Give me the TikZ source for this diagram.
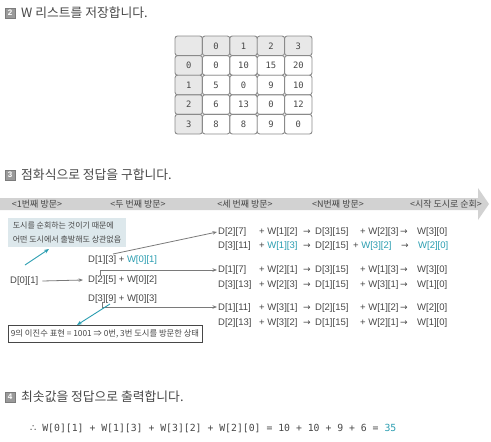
\documentclass[tikz,border=0pt]{standalone}
\usepackage{fontspec}
\setmainfont{Liberation Sans}
\newfontfamily\kr{Noto Sans CJK KR}
\newfontfamily\dv{DejaVu Sans}
\newfontfamily\mono{DejaVu Sans Mono}
\usetikzlibrary{arrows.meta}
\definecolor{tealc}{HTML}{2A9DB0}
\definecolor{txtc}{HTML}{474747}
\definecolor{bandc}{HTML}{D2D2D2}
\definecolor{cellg}{HTML}{E8E8E8}
\definecolor{celldraw}{HTML}{8A8A8A}
\definecolor{notec}{HTML}{DDE8EC}
\definecolor{linec}{HTML}{7A7A7A}
\definecolor{numc}{HTML}{9A9A9A}
\newcommand\mkrow[9]{%
  \node[rt] (#1a) at (218,#2) {#3};
  \node[rt] (#1b) at (259,#2) {#4};
  \node[arr] (#1c) at (307,#2) {→};
  \node[rt] (#1d) at (315,#2) {#5};
  \node[rt] (#1e) at (#8,#2) {#6};
  \node[arr] (#1f) at (#9,#2) {→};
  \node[rt] (#1g) at (417,#2) {#7};
}
\begin{document}
\begin{tikzpicture}[x=1pt,y=-1pt,
  numbox/.style={draw=numc!80!black,fill=numc,text=white,minimum size=10pt,inner sep=0pt,
     font=\bfseries\fontsize{8}{8}\selectfont},
  head/.style={anchor=west,inner sep=0pt,text=txtc,font=\kr\fontsize{12.8}{14}\selectfont},
  cellbase/.style={draw=celldraw,line width=0.9pt,rounded corners=2.5pt,minimum width=27.4pt,
     minimum height=19.6pt,inner sep=0pt,text=txtc,font=\mono\fontsize{8.8}{9}\selectfont},
  cellh/.style={cellbase,fill=cellg},
  cellw/.style={cellbase,fill=white},
  bandlbl/.style={inner sep=0pt,text=txtc,font=\kr\fontsize{9}{10}\selectfont},
  lt/.style={anchor=west,inner sep=0pt,text=txtc,font=\fontsize{9.5}{11}\selectfont},
  rt/.style={lt},
  arr/.style={inner sep=0pt,text=txtc,font=\dv\fontsize{9}{9}\selectfont},
  garrow/.style={draw=linec,line width=0.8pt,-{Stealth[length=4.5pt,width=3.5pt]}},
  tarrow/.style={draw=tealc,line width=0.9pt,-{Stealth[length=5pt,width=4pt]}},
]
\useasboundingbox (0,0) rectangle (491,442);

% ---- heading 2
\node[numbox] (n2) at (10,13) {2};
\node[head] (h2) at (21,13) {W 리스트를 저장합니다.};

% ---- table
\foreach \c/\v in {0/,1/0,2/1,3/2,4/3}
  \node[cellh] (t0\c) at ({188.7+27.4*\c},45.8) {\v};
\foreach \r/\v in {1/0,2/1,3/2,4/3}
  \node[cellh] (t\r0) at (188.7,{45.8+19.6*\r}) {\v};
\foreach \c/\v in {1/0,2/10,3/15,4/20}
  \node[cellw] (t1\c) at ({188.7+27.4*\c},65.4) {\v};
\foreach \c/\v in {1/5,2/0,3/9,4/10}
  \node[cellw] (t2\c) at ({188.7+27.4*\c},85.0) {\v};
\foreach \c/\v in {1/6,2/13,3/0,4/12}
  \node[cellw] (t3\c) at ({188.7+27.4*\c},104.6) {\v};
\foreach \c/\v in {1/8,2/8,3/9,4/0}
  \node[cellw] (t4\c) at ({188.7+27.4*\c},124.2) {\v};

% ---- heading 3
\node[numbox] (n3) at (10,175) {3};
\node[head] (h3) at (21,175) {점화식으로 정답을 구합니다.};

% ---- band arrow
\fill[bandc] (0,198) -- (478,198) -- (478,188) -- (489,204) -- (478,220) -- (478,210) -- (0,210) -- cycle;
\node[bandlbl] (b1) at (37,204) {<1번째 방문>};
\node[bandlbl] (b2) at (138,204) {<두 번째 방문>};
\node[bandlbl] (b3) at (245,204) {<세 번째 방문>};
\node[bandlbl] (b4) at (338,204) {<N번째 방문>};
\node[bandlbl] (b5) at (446,204) {<시작 도시로 순회>};

% ---- note box
\node[fill=notec,minimum width=118pt,minimum height=29pt,inner sep=0pt,align=left,
      text=txtc,font=\kr\fontsize{8}{13.5}\selectfont] (note) at (67,232.5)
      {도시를 순회하는 것이기 때문에\\어떤 도시에서 출발해도 상관없음};

% ---- left column
\node[lt] (d01) at (10,281) {D[0][1]};
\node[lt] (m1) at (88,260) {D[1][3] + \textcolor{tealc}{W[0][1]}};
\node[lt] (m2) at (88,280) {D[2][5] + W[0][2]};
\node[lt] (m3) at (88,299) {D[3][9] + W[0][3]};

% ---- right column
\mkrow{r1}{232}{D[2][7]}{+ W[1][2]}{D[3][15]}{+ W[2][3]}{W[3][0]}{360}{404}
\mkrow{r2}{246}{D[3][11]}{+ \textcolor{tealc}{W[1][3]}}{D[2][15]}{+ \textcolor{tealc}{W[3][2]}}{\hspace{1pt}\textcolor{tealc}{W[2][0]}}{353}{405}
\mkrow{r3}{270}{D[1][7]}{+ W[2][1]}{D[3][15]}{+ W[1][3]}{W[3][0]}{360}{404}
\mkrow{r4}{285}{D[3][13]}{+ W[2][3]}{D[1][15]}{+ W[3][1]}{W[1][0]}{360}{404}
\mkrow{r5}{308}{D[1][11]}{+ W[3][1]}{D[2][15]}{+ W[1][2]}{W[2][0]}{360}{404}
\mkrow{r6}{323}{D[2][13]}{+ W[3][2]}{D[1][15]}{+ W[2][1]}{W[1][0]}{360}{404}

% ---- bottom state box
\node[draw=txtc,line width=0.8pt,fill=white,minimum width=194pt,minimum height=17pt,inner sep=0pt,
      text=txtc,font=\kr\fontsize{8.3}{9}\selectfont] (state) at (105,333.5)
      {9의 이진수 표현 = 1001 ⇒ 0번, 3번 도시를 방문한 상태};

% ---- connectors
\coordinate (c1) at (113,254);
\coordinate (c2) at (100,276);
\coordinate (c3) at (102,302);
\draw[garrow] ([xshift=4pt]d01.east) -- ([xshift=-5pt]m2.west);
\draw[garrow] (c1) -- ([xshift=-1pt]r1a.west);
\draw[garrow] (c2) |- ([xshift=-1pt]r3a.west);
\draw[garrow] (c3) |- ([xshift=-1pt,yshift=1pt]r5a.west);
\coordinate (t1s) at (25,265);
\coordinate (t1e) at (49,249);
\draw[tarrow] (t1s) -- (t1e);
\coordinate (t2s) at (110,304);
\coordinate (t2e) at (77,325);
\draw[tarrow] (t2s) -- (t2e);

% ---- heading 4
\node[numbox] (n4) at (10,397) {4};
\node[head] (h4) at (21,397) {최솟값을 정답으로 출력합니다.};

% ---- result line
\node[anchor=west,inner sep=0pt,text=txtc,font=\mono\fontsize{9.8}{11}\selectfont] (res) at (30,428)
  {{\dv ∴} W[0][1] + W[1][3] + W[3][2] + W[2][0] = 10 + 10 + 9 + 6 = \textcolor{tealc}{35}};
\end{tikzpicture}
\end{document}
